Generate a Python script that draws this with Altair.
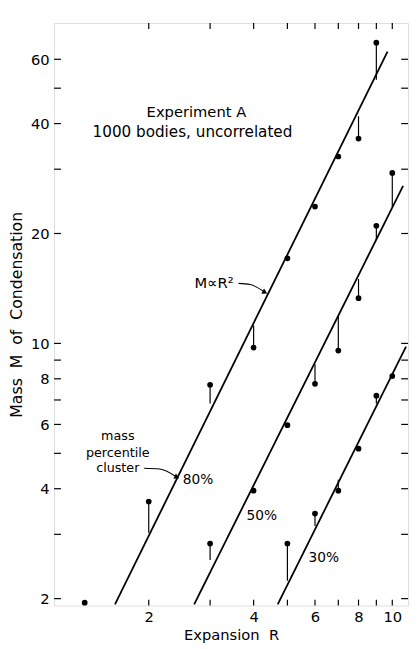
import altair as alt
import pandas as pd

# ---- data ----
# 80% cluster
R80 = [1.31, 2, 3, 4, 5, 6, 7, 8, 9]
M80 = [1.95, 3.69, 7.70, 9.74, 17.1, 23.7, 32.5, 36.4, 66.6]
L80 = [1.95, 3.03, 6.85, 11.2, 17.1, 23.7, 32.5, 41.9, 52.7]   # stem ends on fitted line
# 50% cluster
R50 = [3, 4, 5, 6, 7, 8, 9, 10]
M50 = [2.83, 3.95, 5.97, 7.75, 9.56, 13.3, 21.0, 29.3]
L50 = [2.55, 3.95, 5.97, 8.77, 11.9, 15.0, 19.2, 23.6]
# 30% cluster
R30 = [5, 6, 7, 8, 9, 10]
M30 = [2.83, 3.42, 3.95, 5.15, 7.19, 8.14]
L30 = [2.24, 3.16, 4.23, 5.15, 6.85, 8.14]

# fitted M ~ R^2 lines (end points)
FIT_R80 = [1.60, 9.69]
FIT_M80 = [1.93, 63.0]
FIT_R50 = [2.70, 10.74]
FIT_M50 = [1.93, 27.0]
FIT_R30 = [4.69, 10.95]
FIT_M30 = [1.93, 9.80]

X_TICKS = [2, 3, 4, 5, 6, 7, 8, 9, 10]
X_LABELS = [2, 4, 6, 8, 10]
Y_TICKS = [2, 3, 4, 5, 6, 7, 8, 9, 10, 20, 30, 40, 50, 60]
Y_LABELS = [2, 4, 6, 8, 10, 20, 40, 60]

ANN_TEXT = ["Experiment A", "1000 bodies, uncorrelated", "M\u221dR\u00b2",
            "mass", "percentile", "cluster", "80%", "50%", "30%"]
ANN_R = [2.74, 2.67, 3.08, 1.63, 1.63, 1.63, 2.77, 4.22, 6.36]
ANN_M = [43.0, 37.9, 14.6, 5.58, 5.02, 4.55, 4.23, 3.36, 2.58]
ANN_SIZE = [15, 15.5, 15, 13, 13, 13, 14, 14, 14]

ARROW1_R = [3.62, 3.91, 4.31]
ARROW1_M = [14.6, 14.5, 13.8]
ARROW2_R = [1.94, 2.15, 2.41]
ARROW2_M = [4.55, 4.53, 4.30]

# ---- tables ----
pts = pd.concat([
    pd.DataFrame({"R": R80, "M": M80, "L": L80, "s": "80%"}),
    pd.DataFrame({"R": R50, "M": M50, "L": L50, "s": "50%"}),
    pd.DataFrame({"R": R30, "M": M30, "L": L30, "s": "30%"}),
])
fits = pd.concat([
    pd.DataFrame({"R": FIT_R80, "M": FIT_M80, "s": "80%"}),
    pd.DataFrame({"R": FIT_R50, "M": FIT_M50, "s": "50%"}),
    pd.DataFrame({"R": FIT_R30, "M": FIT_M30, "s": "30%"}),
])
ann = pd.DataFrame({"R": ANN_R, "M": ANN_M, "t": ANN_TEXT, "fs": ANN_SIZE})
arrows = pd.concat([
    pd.DataFrame({"R": ARROW1_R, "M": ARROW1_M, "a": "a1", "o": [0, 1, 2]}),
    pd.DataFrame({"R": ARROW2_R, "M": ARROW2_M, "a": "a2", "o": [0, 1, 2]}),
])
heads = pd.DataFrame({"R": [ARROW1_R[-1], ARROW2_R[-1]],
                      "M": [ARROW1_M[-1], ARROW2_M[-1]],
                      "ang": [28, 25]})
xt = pd.DataFrame({"R": X_TICKS})
yt = pd.DataFrame({"M": Y_TICKS})

W, H = 361, 594
FONT = "DejaVu Sans"

xs = alt.Scale(type="log", domain=[1.07, 11.1], nice=False)
ys = alt.Scale(type="log", domain=[1.915, 75.4], nice=False)
xaxis = alt.Axis(values=X_LABELS, format="d", ticks=False, tickSize=0, domain=False,
                 grid=False, labelPadding=4, title="Expansion\u00a0 R",
                 titlePadding=4, labelFontSize=15, titleFontSize=15,
                 labelFont=FONT, titleFont=FONT, titleFontWeight="normal",
                 labelColor="black", titleColor="black")
yaxis = alt.Axis(values=Y_LABELS, format="d", ticks=False, tickSize=0, domain=False,
                 grid=False, labelPadding=5, title="Mass\u00a0 M\u00a0 of\u00a0 Condensation",
                 titlePadding=6, labelFontSize=15, titleFontSize=16,
                 labelFont=FONT, titleFont=FONT, titleFontWeight="normal",
                 labelColor="black", titleColor="black")
X = alt.X("R:Q", scale=xs, axis=xaxis)
Y = alt.Y("M:Q", scale=ys, axis=yaxis)

lines = alt.Chart(fits).mark_line(color="black", strokeWidth=1.8, clip=True).encode(
    x=X, y=Y, detail="s:N")
stems = alt.Chart(pts).mark_rule(color="black", strokeWidth=1.2).encode(
    x=X, y=Y, y2="L:Q")
dots = alt.Chart(pts).mark_circle(color="black", size=34, opacity=1).encode(x=X, y=Y)

txt = alt.Chart(ann).mark_text(font=FONT, color="black",
                               align="center", baseline="middle").encode(
    x=X, y=Y, text="t:N", size=alt.Size("fs:Q", scale=None, legend=None))
arr = alt.Chart(arrows).mark_line(color="black", strokeWidth=1.1, interpolate="monotone").encode(
    x=X, y=Y, detail="a:N", order="o:O")
arrh = alt.Chart(heads).mark_point(shape="triangle-right", filled=True, color="black",
                                   size=36, opacity=1).encode(x=X, y=Y, angle=alt.Angle("ang:Q", scale=None))

bt = alt.Chart(xt).mark_rule(color="black", strokeWidth=1.2).encode(
    x=X, y=alt.value(H), y2=alt.value(H - 6))
tt = alt.Chart(xt).mark_rule(color="black", strokeWidth=1.2).encode(
    x=X, y=alt.value(0), y2=alt.value(6))
lt = alt.Chart(yt).mark_rule(color="black", strokeWidth=1.2).encode(
    y=Y, x=alt.value(0), x2=alt.value(7))
rt = alt.Chart(yt).mark_rule(color="black", strokeWidth=1.2).encode(
    y=Y, x=alt.value(W), x2=alt.value(W - 7))

chart = alt.layer(lines, stems, dots, txt, arr, arrh, bt, tt, lt, rt).properties(
    width=W, height=H,
    autosize=alt.AutoSizeParams(type="none"),
    padding={"left": 47, "top": 9, "right": 4, "bottom": 38},
).configure_view(stroke="black", strokeWidth=1.5).configure(background="white")

chart.save("out.html", embed_options={"renderer": "svg", "actions": False})
